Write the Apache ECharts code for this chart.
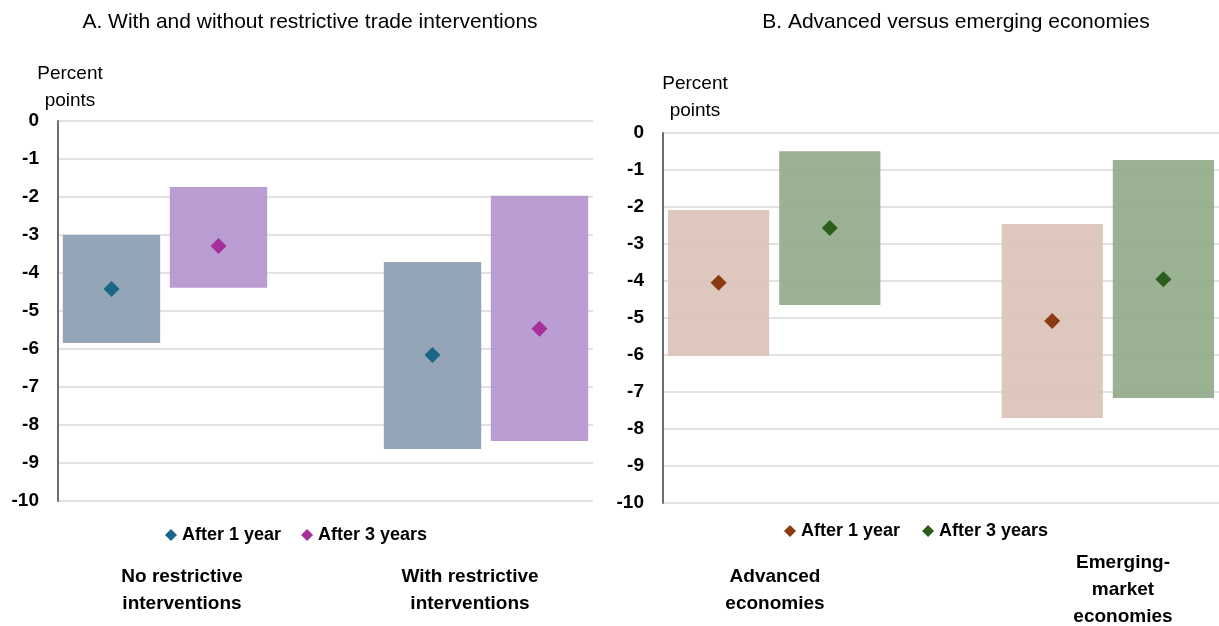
<!DOCTYPE html>
<html>
<head>
<meta charset="utf-8">
<script src="https://cdn.jsdelivr.net/npm/echarts@6/dist/echarts.min.js"></script>
<style>
  html, body { margin: 0; padding: 0; background: #ffffff; }
  #chart { width: 1219px; height: 626px; }
</style>
</head>
<body>
<div id="chart"></div>
<script>
// Five slots per panel: two horizons per group, with an empty slot between groups
const slots = ['s1', 's2', 's3', 's4', 's5'];
const horizons = ['After 1 year', 'After 3 years'];

// Panel A: with and without restrictive trade interventions
const groupsA = ['No restrictive\ninterventions', 'With restrictive\ninterventions'];
const a1Point = [-4.42, -6.16];
const a1High  = [-3.00, -3.71];
const a1Low   = [-5.84, -8.63];
const a3Point = [-3.29, -5.47];
const a3High  = [-1.74, -1.97];
const a3Low   = [-4.39, -8.42];

// Panel B: advanced versus emerging economies
const groupsB = ['Advanced\neconomies', 'Emerging-\nmarket\neconomies'];
const b1Point = [-4.05, -5.08];
const b1High  = [-2.08, -2.46];
const b1Low   = [-6.03, -7.70];
const b3Point = [-2.57, -3.95];
const b3High  = [-0.49, -0.73];
const b3Low   = [-4.65, -7.16];

const FONT = '"Liberation Sans", Arial, sans-serif';

const slotOf = (group, horizon) => group * 3 + horizon;

// Shaded range box from high to low for each group
function rangeSeries(name, gridIdx, horizon, high, low, color) {
  return {
    name: name,
    type: 'custom',
    xAxisIndex: gridIdx,
    yAxisIndex: gridIdx,
    encode: { x: 0, y: [1, 2] },
    itemStyle: { color: color },
    data: high.map((h, g) => [slotOf(g, horizon), h, low[g]]),
    renderItem: function (params, api) {
      const x = api.value(0);
      const p1 = api.coord([x, api.value(1)]);
      const p2 = api.coord([x, api.value(2)]);
      const w = api.size([1, 0])[0] * 0.91;
      return {
        type: 'rect',
        shape: { x: p1[0] - w / 2, y: p1[1], width: w, height: p2[1] - p1[1] },
        style: { fill: color, opacity: 0.92 }
      };
    },
    z: 2,
    silent: true
  };
}

// Point estimate drawn as a diamond
function pointSeries(name, gridIdx, horizon, pts, color) {
  return {
    name: name,
    type: 'scatter',
    xAxisIndex: gridIdx,
    yAxisIndex: gridIdx,
    symbol: 'diamond',
    symbolSize: 16,
    itemStyle: { color: color, opacity: 1 },
    data: pts.map((v, g) => [slotOf(g, horizon), v]),
    z: 5
  };
}

const yAxisBase = {
  type: 'value',
  min: -10,
  max: 0,
  interval: 1,
  axisLine: { show: true, lineStyle: { color: '#6e6e6e', width: 2 } },
  axisTick: { show: false },
  splitLine: { show: true, lineStyle: { color: '#d9d9d9', width: 1.5 } },
  axisLabel: { color: '#000', fontWeight: 'bold', fontSize: 19, fontFamily: FONT, margin: 19 }
};

const xAxisBase = {
  type: 'category',
  data: slots,
  boundaryGap: true,
  axisLine: { show: false },
  axisTick: { show: false },
  axisLabel: { show: false },
  splitLine: { show: false }
};

const legendText = { color: '#000', fontWeight: 'bold', fontSize: 18, fontFamily: FONT };
const legendFormatter = name => name.split('|')[1];

function label(text, x, y, weight) {
  return {
    type: 'text',
    x: x,
    y: y,
    style: {
      text: text,
      textAlign: 'center',
      textVerticalAlign: 'middle',
      font: (weight || 'bold') + ' 19px ' + FONT,
      lineHeight: 27,
      fill: '#000'
    }
  };
}

const chart = echarts.init(document.getElementById('chart'), null, { renderer: 'canvas' });

chart.setOption({
  backgroundColor: '#ffffff',
  animation: false,
  title: [
    {
      text: 'A. With and without restrictive trade interventions',
      left: 305, top: 7, textAlign: 'center',
      textStyle: { fontFamily: FONT, fontWeight: 'normal', fontSize: 21, color: '#000' }
    },
    {
      text: 'B. Advanced versus emerging economies',
      left: 951, top: 7, textAlign: 'center',
      textStyle: { fontFamily: FONT, fontWeight: 'normal', fontSize: 21, color: '#000' }
    }
  ],
  grid: [
    { left: 58, top: 121, width: 535, height: 380 },
    { left: 663, top: 133, width: 557, height: 370 }
  ],
  xAxis: [
    Object.assign({ gridIndex: 0 }, xAxisBase),
    Object.assign({ gridIndex: 1 }, xAxisBase)
  ],
  yAxis: [
    Object.assign({ gridIndex: 0 }, yAxisBase),
    Object.assign({ gridIndex: 1 }, yAxisBase)
  ],
  legend: [
    {
      data: ['A|' + horizons[0], 'A|' + horizons[1]],
      left: 160, top: 521,
      icon: 'diamond', itemWidth: 12, itemHeight: 12, itemGap: 20,
      selectedMode: false, formatter: legendFormatter, textStyle: legendText
    },
    {
      data: ['B|' + horizons[0], 'B|' + horizons[1]],
      left: 779, top: 517,
      icon: 'diamond', itemWidth: 12, itemHeight: 12, itemGap: 22,
      selectedMode: false, formatter: legendFormatter, textStyle: legendText
    }
  ],
  graphic: [
    label('Percent\npoints', 70, 87, 'normal'),
    label('Percent\npoints', 695, 97, 'normal'),
    label(groupsA[0], 182, 590),
    label(groupsA[1], 470, 590),
    label(groupsB[0], 775, 590),
    label(groupsB[1], 1123, 590)
  ],
  series: [
    rangeSeries('A|range 1', 0, 0, a1High, a1Low, '#8a9db0'),
    rangeSeries('A|range 3', 0, 1, a3High, a3Low, '#b496cf'),
    pointSeries('A|' + horizons[0], 0, 0, a1Point, '#1b6587'),
    pointSeries('A|' + horizons[1], 0, 1, a3Point, '#a62f9c'),
    rangeSeries('B|range 1', 1, 0, b1High, b1Low, '#dbc3b7'),
    rangeSeries('B|range 3', 1, 1, b3High, b3Low, '#93aa8b'),
    pointSeries('B|' + horizons[0], 1, 0, b1Point, '#8b3a12'),
    pointSeries('B|' + horizons[1], 1, 1, b3Point, '#2b5e1c')
  ]
});
</script>
</body>
</html>
